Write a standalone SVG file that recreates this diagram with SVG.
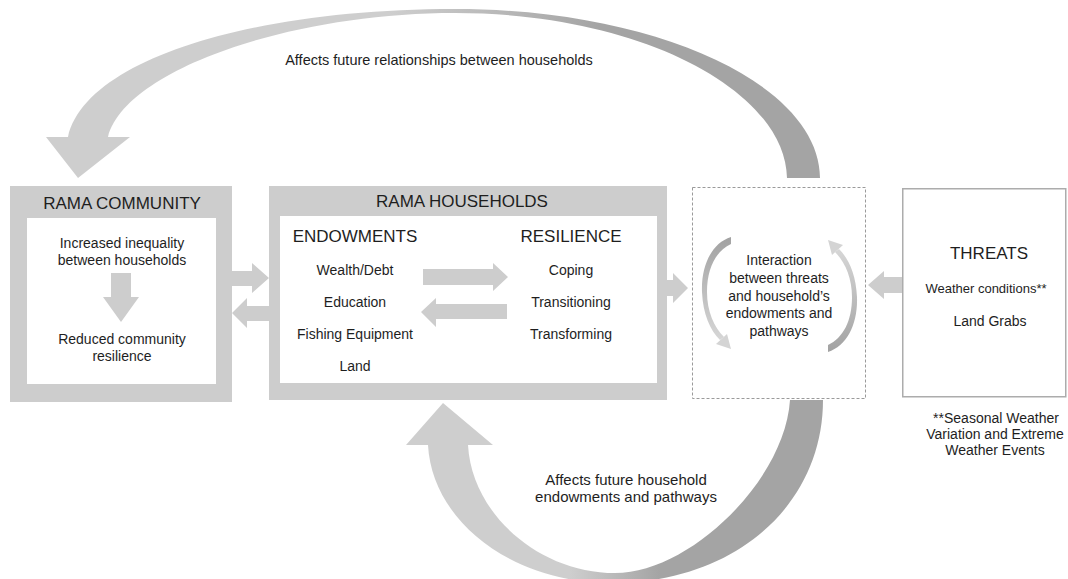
<svg xmlns="http://www.w3.org/2000/svg" width="1068" height="579" viewBox="0 0 1068 579">
<style>
.frame{fill:#cdcdcd}
.white{fill:#ffffff}
.arr{fill:#cdcdcd}
text{font-family:"Liberation Sans",Arial,Helvetica,sans-serif;fill:#1e1e1e;text-anchor:middle}
.h{font-size:17px}
.b{font-size:14px}
.s{font-size:13px}
.l{font-size:14.5px}
.lb{font-size:15px}
</style>
<defs>
<linearGradient id="gTop" gradientUnits="userSpaceOnUse" x1="390" y1="0" x2="600" y2="0">
<stop offset="0" stop-color="#cecece"/>
<stop offset="1" stop-color="#a4a4a4"/>
</linearGradient>
<linearGradient id="gBot" gradientUnits="userSpaceOnUse" x1="570" y1="0" x2="660" y2="0">
<stop offset="0" stop-color="#cecece"/>
<stop offset="1" stop-color="#a4a4a4"/>
</linearGradient>
<linearGradient id="gSmall" x1="0" y1="0" x2="0" y2="1">
<stop offset="0" stop-color="#a2a2a2"/>
<stop offset="1" stop-color="#d6d6d6"/>
</linearGradient>
<g id="smallArc">
<path d="M731,237 C712,243 701,265 702,292 C703,314 710,330 720,340 L724,337 C714,327 707,311 707,292 C707,268 716,251 731,244 Z" fill="url(#gSmall)"/>
<polygon points="716,344 727,334 731,349" fill="#d4d4d4"/>
</g>
</defs>

<g id="connectors">
<path d="M820,178 C820,85 657,9 455,9 C250,9 85,60 68,137 L46,137 L78,178 L130,137 L108,137 C125,70 290,13 455,13 C640,13 785,90 787,178 Z" fill="url(#gTop)"/>
<text class="l" x="439" y="65">Affects future relationships between households</text>
<path d="M823,400 C823,505 735,583 612,583 C510,583 432,520 428,445 L406,445 L443,403 L493,445 L468,445 C472,515 540,573 615,573 C690,573 785,480 790,400 Z" fill="url(#gBot)"/>
<text class="lb" x="626" y="485">Affects future household</text>
<text class="lb" x="626" y="502">endowments and pathways</text>
<polygon class="arr" points="232,271 252,271 252,263 269,278 252,293 252,286 232,286"/>
<polygon class="arr" points="269,306 247,306 247,298 232,313 247,328 247,321 269,321"/>
<polygon class="arr" points="423,269 493,269 493,263 508,277 493,291 493,285 423,285"/>
<polygon class="arr" points="507,304 436,304 436,298 421,312 436,327 436,319 507,319"/>
<polygon class="arr" points="667,280 673,280 673,273 688,288 673,303 673,296 667,296"/>
<polygon class="arr" points="902,277 884,277 884,271 868,285 884,299 884,293 902,293"/>
</g>

<g id="node-community">
<rect class="frame" x="10" y="186" width="222" height="216"/>
<rect class="white" x="27" y="218" width="189" height="166"/>
<text class="h" x="122" y="209">RAMA COMMUNITY</text>
<text class="b" x="122" y="248">Increased inequality</text>
<text class="b" x="122" y="265">between households</text>
<polygon class="arr" points="111,273 131,273 131,297 139,297 121,322 103,297 111,297"/>
<text class="b" x="122" y="344">Reduced community</text>
<text class="b" x="122" y="361">resilience</text>
</g>

<g id="node-households">
<path class="frame" fill-rule="evenodd" d="M269,186 H667 V400 H269 Z M280,216 V383 H657 V216 Z"/>
<text class="h" x="462" y="207">RAMA HOUSEHOLDS</text>
<text class="h" x="355" y="242">ENDOWMENTS</text>
<text class="h" x="571" y="242">RESILIENCE</text>
<text class="b" x="355" y="275">Wealth/Debt</text>
<text class="b" x="355" y="307">Education</text>
<text class="b" x="355" y="339">Fishing Equipment</text>
<text class="b" x="355" y="371">Land</text>
<text class="b" x="571" y="275">Coping</text>
<text class="b" x="571" y="307">Transitioning</text>
<text class="b" x="571" y="339">Transforming</text>
</g>

<g id="node-interaction">
<rect x="692.5" y="187.5" width="173" height="211" fill="none" stroke="#9a9a9a" stroke-width="1" stroke-dasharray="3,2"/>
<use href="#smallArc"/>
<use href="#smallArc" transform="rotate(180 779.5 294.5)"/>
<text class="b" x="779" y="265">Interaction</text>
<text class="b" x="779" y="283">between threats</text>
<text class="b" x="779" y="301">and household’s</text>
<text class="b" x="779" y="318">endowments and</text>
<text class="b" x="779" y="336">pathways</text>
</g>

<g id="node-threats">
<rect x="902.75" y="188.75" width="163" height="208" fill="#ffffff" stroke="#acacac" stroke-width="1.5"/>
<text class="h" x="989" y="259">THREATS</text>
<text class="s" x="986" y="293">Weather conditions**</text>
<text class="b" x="990" y="326">Land Grabs</text>
</g>

<g id="footnote">
<text class="b" x="996" y="423">**Seasonal Weather</text>
<text class="b" x="995" y="439">Variation and Extreme</text>
<text class="b" x="995" y="455">Weather Events</text>
</g>
</svg>
